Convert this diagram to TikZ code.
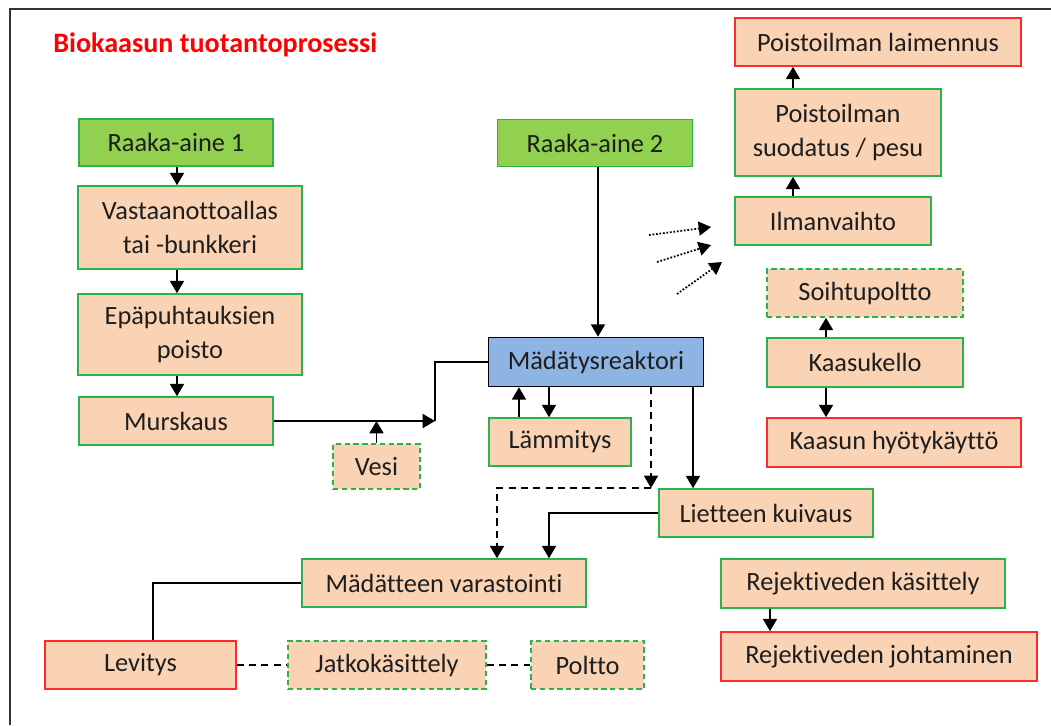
\documentclass[tikz,border=0pt]{standalone}
\usepackage{fontspec}
\setmainfont{Carlito}[Ligatures=CommonOff]
\usetikzlibrary{arrows.meta}
\definecolor{peach}{HTML}{FAD3B4}
\definecolor{boxgreen}{HTML}{2BB24C}
\definecolor{boxred}{HTML}{FF2A2A}
\definecolor{rawgreen}{HTML}{92D050}
\definecolor{reactorblue}{HTML}{8DB4E2}
\definecolor{txt}{HTML}{1E1E1E}
\newcommand{\pxu}{0.02cm}
\begin{document}
\begin{tikzpicture}[x=\pxu, y=-\pxu,
  every node/.style={font=\fontsize{15}{19.8}\selectfont, text=txt, align=center, inner sep=0pt},
  gbox/.style={draw=boxgreen, fill=peach, line width=0.9pt},
  rbox/.style={draw=boxred, fill=peach, line width=0.9pt},
  dbox/.style={draw=boxgreen, fill=peach, line width=0.9pt, dash pattern=on 3pt off 2pt},
  rawbox/.style={draw=boxgreen, fill=rawgreen, line width=0.9pt},
  reactor/.style={draw=black, fill=reactorblue, line width=0.9pt},
  sz/.style 2 args={minimum width=#1*\pxu, minimum height=#2*\pxu},
  tip/.style={-{Triangle[width=8pt,length=7pt]}},
  arr/.style={tip, line width=0.8pt},
  link/.style={line width=0.8pt},
  dlink/.style={line width=0.8pt, dash pattern=on 4pt off 3pt},
  vent/.style={densely dotted, line width=1pt, tip}
]
\useasboundingbox (0,0) rectangle (1051,725);
\draw[line width=1.2pt, black!80] (10,725) -- (10,9) -- (1051,9);

\node[anchor=west, font=\fontsize{16}{19}\selectfont\bfseries, text=red] (title) at (53,45) {Biokaasun tuotantoprosessi};

% left column
\node[rawbox, sz={194}{47}] (raaka1) at (176,142.5) {Raaka-aine 1};
\node[gbox, sz={224}{83}] (vast) at (190,227.5) {Vastaanottoallas\\tai -bunkkeri};
\node[gbox, sz={224}{81}] (epap) at (190,334.5) {Epäpuhtauksien\\poisto};
\node[gbox, sz={194}{48}] (murs) at (176,421) {Murskaus};
\node[dbox, sz={87}{45}] (vesi) at (376.5,466.5) {Vesi};

% middle
\node[rawbox, sz={195}{47}] (raaka2) at (595,143) {Raaka-aine 2};
\node[reactor, sz={215}{49}] (reakt) at (596,362) {Mädätysreaktori};
\node[gbox, sz={142}{48}] (lamm) at (560,442) {Lämmitys};
\node[gbox, sz={214}{48}] (liete) at (766,513) {Lietteen kuivaus};
\node[gbox, sz={284}{48}] (varast) at (444,583) {Mädätteen varastointi};
\node[rbox, sz={191}{48}] (levit) at (140.5,665) {Levitys};
\node[dbox, sz={198}{48}] (jatko) at (387,665) {Jatkokäsittely};
\node[dbox, sz={113}{48}] (poltto) at (587.5,665) {Poltto};

% right column
\node[rbox, sz={286}{48}] (laim) at (878,42) {Poistoilman laimennus};
\node[gbox, sz={206}{87}] (suod) at (838,132.5) {Poistoilman\\suodatus / pesu};
\node[gbox, sz={196}{48}] (ilma) at (833,221) {Ilmanvaihto};
\node[dbox, sz={196}{48}] (soiht) at (865,293) {Soihtupoltto};
\node[gbox, sz={196}{49}] (kello) at (865,362.5) {Kaasukello};
\node[rbox, sz={254}{49}] (hyoty) at (894,442.5) {Kaasun hyötykäyttö};
\node[gbox, sz={284}{49}] (rejk) at (863,583.5) {Rejektiveden käsittely};
\node[rbox, sz={316}{49}] (rejj) at (879,656.5) {Rejektiveden johtaminen};

\coordinate (mix) at (435,421);
\coordinate (dcorner) at (651,488);
\coordinate (v1s) at (649,235); \coordinate (v1e) at (711,227);
\coordinate (v2s) at (657,262); \coordinate (v2e) at (711,245);
\coordinate (v3s) at (677,294); \coordinate (v3e) at (722,262);

\draw[arr] (raaka1.south -| 177,0) -- (vast.north -| 177,0);
\draw[arr] (vast.south -| 177,0) -- (epap.north -| 177,0);
\draw[arr] (epap.south -| 177,0) -- (murs.north -| 177,0);
\draw[arr] (murs.east) -- (mix);
\draw[link] (mix) |- (reakt.west);
\draw[arr] (vesi.north) -- (vesi.north |- mix);
\draw[arr] (raaka2.south -| 598,0) -- (reakt.north -| 598,0);
\draw[arr] (lamm.north -| 519,0) -- (reakt.south -| 519,0);
\draw[arr] (reakt.south -| 549,0) -- (lamm.north -| 549,0);
\draw[dlink, tip] (reakt.south -| dcorner) -- (dcorner);
\draw[dlink, tip] (dcorner) -| (varast.north -| 497,0);
\draw[arr] (reakt.south -| 693,0) -- (liete.north -| 693,0);
\draw[arr] (liete.west) -| (varast.north -| 549,0);
\draw[link] (varast.west) -| (levit.north -| 153,0);
\draw[dlink] (levit.east) -- (jatko.west);
\draw[dlink] (jatko.east) -- (poltto.west);

\draw[arr] (ilma.north -| 793,0) -- (suod.south -| 793,0);
\draw[arr] (suod.north -| 793,0) -- (laim.south -| 793,0);
\draw[arr] (kello.north -| 826,0) -- (soiht.south -| 826,0);
\draw[arr] (kello.south -| 826,0) -- (hyoty.north -| 826,0);
\draw[arr] (rejk.south -| 770,0) -- (rejj.north -| 770,0);

\draw[vent] (v1s) -- (v1e);
\draw[vent] (v2s) -- (v2e);
\draw[vent] (v3s) -- (v3e);
\end{tikzpicture}
\end{document}
